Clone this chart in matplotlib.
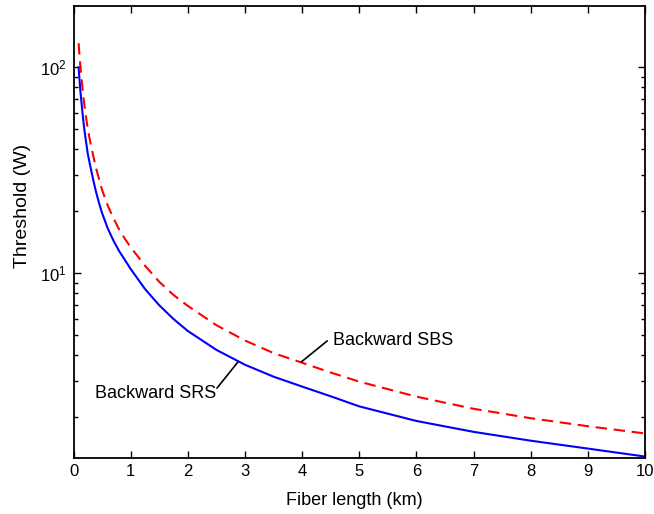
import matplotlib
matplotlib.use("Agg")
import matplotlib.pyplot as plt
from matplotlib.ticker import LogLocator, FixedLocator

plt.rcParams['font.family'] = ['Liberation Sans', 'DejaVu Sans']
plt.rcParams['mathtext.fontset'] = 'custom'
plt.rcParams['mathtext.rm'] = 'Liberation Sans'

# Fiber length (km)
length_srs = [0.09, 0.1, 0.12, 0.15, 0.175, 0.2, 0.25, 0.3, 0.35, 0.4, 0.45, 0.5, 0.6, 0.7,
              0.8, 0.9, 1.0, 1.25, 1.5, 1.75, 2.0, 2.5, 3.0, 3.5, 4.0, 4.5, 5.0, 6.0, 7.0,
              8.0, 9.0, 10.0]
threshold_srs = [100, 91, 77, 63, 54, 47.5, 38, 32.5, 28, 24.5, 21.8, 19.6, 16.5, 14.4,
                 12.8, 11.6, 10.5, 8.4, 7.0, 6.0, 5.25, 4.25, 3.6, 3.15, 2.82, 2.53, 2.26,
                 1.92, 1.70, 1.54, 1.41, 1.29]

length_sbs = [0.09, 0.1, 0.12, 0.15, 0.175, 0.2, 0.25, 0.3, 0.35, 0.4, 0.45, 0.5, 0.6, 0.7,
              0.8, 0.9, 1.0, 1.25, 1.5, 1.75, 2.0, 2.5, 3.0, 3.5, 4.0, 4.5, 5.0, 6.0, 7.0,
              8.0, 9.0, 10.0]
threshold_sbs = [131, 119, 101, 83, 71, 62.5, 50, 42.5, 36.7, 32, 28.5, 25.4, 21.3, 18.5,
                 16.3, 14.7, 13.4, 10.9, 9.1, 7.85, 6.95, 5.6, 4.72, 4.1, 3.68, 3.3, 2.98,
                 2.52, 2.20, 1.98, 1.81, 1.67]

xticks = [0, 1, 2, 3, 4, 5, 6, 7, 8, 9, 10]

fig = plt.figure(figsize=(6.54, 5.14), dpi=100)
ax = fig.add_axes([0.1124, 0.1099, 0.8738, 0.8784])

ax.plot(length_srs, threshold_srs, color='#0000ff', lw=1.5, solid_joinstyle='round')
ax.plot(length_sbs, threshold_sbs, color='#ff0000', lw=1.5, dashes=(5.5, 3.2))

ax.set_yscale('log')
ax.set_xlim(0, 10)
ax.set_ylim(1.276, 198.5)
ax.xaxis.set_major_locator(FixedLocator(xticks))
ax.yaxis.set_major_locator(LogLocator(base=10, numticks=10))
ax.yaxis.set_minor_locator(LogLocator(base=10, subs=range(2, 10), numticks=20))

ax.tick_params(which='both', direction='in', top=True, right=True, labelsize=12,
               width=1.0, colors='#000000')
ax.tick_params(which='major', length=5, pad=5)
ax.tick_params(which='minor', length=3)
for s in ax.spines.values():
    s.set_linewidth(1.3)

ax.set_xlabel('Fiber length (km)', fontsize=13)
ax.set_ylabel('Threshold (W)', fontsize=14)
ax.xaxis.set_label_coords(0.491, -0.076)
ax.yaxis.set_label_coords(-0.075, 0.557)

# annotations
ax.annotate('', xy=(3.99, 3.72), xytext=(4.44, 4.7),
            arrowprops=dict(arrowstyle='-', color='black', lw=1.2, shrinkA=0, shrinkB=0))
ax.text(4.54, 4.74, 'Backward SBS', fontsize=13, ha='left', va='center')

ax.annotate('', xy=(2.88, 3.72), xytext=(2.51, 2.77),
            arrowprops=dict(arrowstyle='-', color='black', lw=1.2, shrinkA=0, shrinkB=0))
ax.text(2.5, 2.62, 'Backward SRS', fontsize=13, ha='right', va='center')

fig.savefig('out.png', dpi=100)
